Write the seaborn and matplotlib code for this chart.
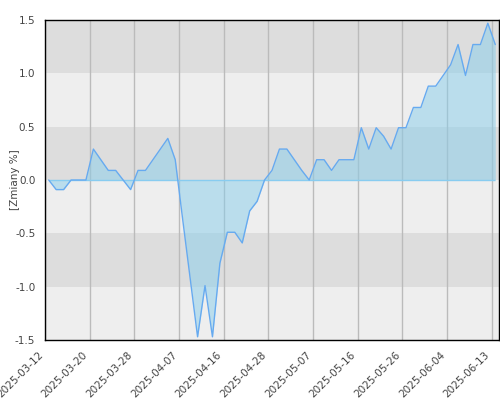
import numpy as np
import pandas as pd
import seaborn as sns
import matplotlib
matplotlib.use('Agg')
import matplotlib.pyplot as plt

sns.set_style('white')
plt.rcParams['font.family'] = ['DejaVu Sans']

# zmiany w %, kolejne notowania
zmiany = [0.0, -0.09, -0.09, 0.0, 0.0, 0.0, 0.29, 0.19, 0.09, 0.09,
          0.0, -0.09, 0.09, 0.09, 0.19, 0.29, 0.39, 0.19, -0.37, -0.92,
          -1.47, -0.99, -1.47, -0.78, -0.49, -0.49, -0.59, -0.29, -0.2, 0.0,
          0.09, 0.29, 0.29, 0.19, 0.09, 0.0, 0.19, 0.19, 0.09, 0.19,
          0.19, 0.19, 0.49, 0.29, 0.49, 0.41, 0.29, 0.49, 0.49, 0.68,
          0.68, 0.88, 0.88, 0.98, 1.08, 1.27, 0.98, 1.27, 1.27, 1.47,
          1.27]
daty = ['2025-03-12', '2025-03-20', '2025-03-28', '2025-04-07', '2025-04-16',
        '2025-04-28', '2025-05-07', '2025-05-16', '2025-05-26', '2025-06-04',
        '2025-06-13']
krok = 6

df = pd.DataFrame({'n': np.arange(len(zmiany)), 'zmiana': zmiany})

fig, ax = plt.subplots(figsize=(5, 4), dpi=100)
fig.subplots_adjust(left=0.09, right=0.998, top=0.95, bottom=0.15)

# pasy tla co 0.5
for i, lo in enumerate(np.arange(-1.5, 1.5, 0.5)):
    ax.axhspan(lo, lo + 0.5, color='#eeeeee' if i % 2 == 0 else '#dddddd', lw=0, zorder=0)

ax.fill_between(df['n'], df['zmiana'], 0, color='#87ceeb', alpha=0.5, lw=0, zorder=2)
ax.hlines(0, df['n'].min(), df['n'].max(), color='#88ccf0', lw=1, zorder=3)
sns.lineplot(data=df, x='n', y='zmiana', ax=ax, color='#66aaf0', lw=1, zorder=4)

ax.set_xlim(-0.5, len(zmiany) - 0.5)
ax.set_ylim(-1.5, 1.5)
ticks = [-0.5 + krok * k for k in range(len(daty))]
ax.set_xticks(ticks)
ax.set_xticklabels(daty, rotation=45, ha='right', fontsize=7.5, color='#444444')
ax.set_yticks([-1.5, -1.0, -0.5, 0.0, 0.5, 1.0, 1.5])
ax.set_yticklabels(['-1.5', '-1.0', '-0.5', '0.0', '0.5', '1.0', '1.5'], fontsize=7.5, color='#444444')
ax.tick_params(length=0, pad=7)
ax.grid(axis='x', color='#bbbbbb', lw=1, zorder=1)
ax.set_axisbelow(True)
ax.set_xlabel('')
ax.set_ylabel('[Zmiany %]', fontsize=7.5, color='#444444')
ax.yaxis.set_label_coords(-0.056, 0.5)
for s in ax.spines.values():
    s.set_color('black')
    s.set_linewidth(1)

plt.savefig('out.png', dpi=100)
